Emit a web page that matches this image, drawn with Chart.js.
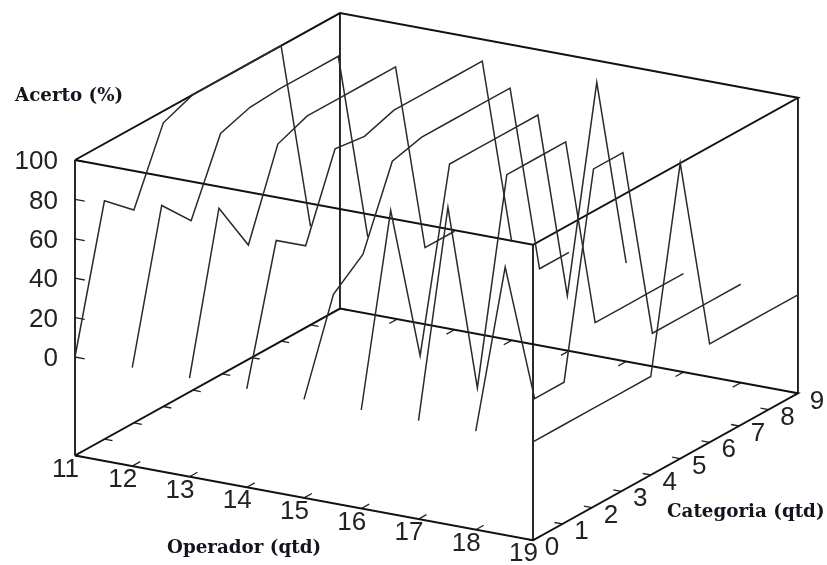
<!DOCTYPE html>
<html lang="pt-BR">
  <head>
    <meta charset="UTF-8" />
    <title>Acerto por operador e categoria</title>
    <script src="https://cdn.jsdelivr.net/npm/chart.js"></script>
    <style>
      html,
      body {
        margin: 0;
        padding: 0;
        background: #fff;
      }
      canvas {
        display: block;
      }
    </style>
  </head>
  <body>
    <canvas id="grafico" width="827" height="565"></canvas>

    <script>
      // Eixos
      const operadores = [11, 12, 13, 14, 15, 16, 17, 18, 19];
      const categorias = [0, 1, 2, 3, 4, 5, 6, 7, 8, 9];
      const ticksAcerto = [0, 20, 40, 60, 80, 100];

      // Acerto (%), um valor por categoria
      const acerto11 = [0, 71, 58, 94, 100, 100, 100, 100, 0];
      const acerto12 = [0, 74, 58, 94, 99, 100, 100, 100, 0];
      const acerto13 = [0, 78, 51, 94, 100, 100, 100, 100, 0, 0];
      const acerto14 = [0, 67, 56, 97, 95, 100, 100, 100, 100, 0];
      const acerto15 = [0, 45, 57, 96, 100, 100, 100, 100, 0, 0];
      const acerto16 = [0, 93, 11, 100, 100, 100, 100, 0, 100, 0];
      const acerto17 = [0, 100, 0, 100, 100, 100, 0, 0, 0, 0];
      const acerto18 = [0, 75, 0, 0, 100, 100, 0, 0, 0, 0];
      const acerto19 = [0, 0, 0, 0, 0, 100, 0, 0, 0, 0];
      const series = [
        acerto11, acerto12, acerto13, acerto14, acerto15,
        acerto16, acerto17, acerto18, acerto19,
      ];

      // Limites da caixa
      const acertoMin = -50;
      const acertoMax = 100;

      // Projecao da caixa 3D para o plano do grafico
      const projetar = (op, cat, z) => ({
        x: 75 + (op - 11) * 57.25 + cat * 29.44,
        y: 357 + (op - 11) * 10.6 - cat * 16.33 - z * 1.97,
      });

      const opA = operadores[0];
      const opB = operadores[operadores.length - 1];
      const catA = categorias[0];
      const catB = categorias[categorias.length - 1];

      const linha = (pontos, largura, cor) => ({
        data: pontos,
        showLine: true,
        borderColor: cor,
        borderWidth: largura,
        pointRadius: 0,
        tension: 0,
        clip: false,
      });

      const datasets = [];

      // Curvas de acerto
      series.forEach((valores, i) => {
        const pontos = valores.map((v, c) => projetar(operadores[i], c, v));
        datasets.push(linha(pontos, 1.5, "#2a2a2a"));
      });

      // Caixa: piso, topo e arestas verticais
      [acertoMin, acertoMax].forEach((z) => {
        datasets.push(
          linha(
            [
              projetar(opA, catA, z),
              projetar(opB, catA, z),
              projetar(opB, catB, z),
              projetar(opA, catB, z),
              projetar(opA, catA, z),
            ],
            2,
            "#111"
          )
        );
      });
      [
        [opA, catA],
        [opB, catA],
        [opB, catB],
        [opA, catB],
      ].forEach(([op, cat]) => {
        datasets.push(
          linha([projetar(op, cat, acertoMin), projetar(op, cat, acertoMax)], 1.8, "#111")
        );
      });

      // Marcas dos eixos
      operadores.forEach((op) => {
        datasets.push(linha([projetar(op, catA, acertoMin), projetar(op, catA + 0.27, acertoMin)], 1.3, "#222"));
        datasets.push(linha([projetar(op, catB, acertoMin), projetar(op, catB - 0.27, acertoMin)], 1.3, "#222"));
      });
      categorias.forEach((cat) => {
        datasets.push(linha([projetar(opA, cat, acertoMin), projetar(opA + 0.14, cat, acertoMin)], 1.3, "#222"));
        datasets.push(linha([projetar(opB, cat, acertoMin), projetar(opB - 0.14, cat, acertoMin)], 1.3, "#222"));
      });
      ticksAcerto.forEach((z) => {
        datasets.push(linha([projetar(opA, catA, z), projetar(opA + 0.17, catA, z)], 1.3, "#222"));
      });

      // Textos dos eixos
      const textos = {
        id: "textos",
        afterDatasetsDraw(chart) {
          const { ctx, scales } = chart;
          const escrever = (texto, p, dx, dy, alinhamento) => {
            ctx.textAlign = alinhamento;
            ctx.fillText(texto, scales.x.getPixelForValue(p.x) + dx, scales.y.getPixelForValue(p.y) + dy);
          };
          ctx.save();
          ctx.fillStyle = "#222";
          ctx.textBaseline = "middle";
          ctx.font = '26px "Liberation Sans", Arial, sans-serif';
          ticksAcerto.forEach((z) => escrever(String(z), projetar(opA, catA, z), -17, 2, "right"));
          operadores.forEach((op) => escrever(String(op), projetar(op, catA, acertoMin), -9.5, 14, "center"));
          categorias.forEach((cat) => escrever(String(cat), projetar(opB, cat, acertoMin), 19, 8, "center"));

          ctx.fillStyle = "#14141f";
          ctx.font = 'bold 18.3px "DejaVu Serif", serif';
          ctx.textAlign = "left";
          ctx.fillText("Acerto (%)", 15, 96);
          ctx.fillText("Operador (qtd)", 167, 548);
          ctx.fillText("Categoria (qtd)", 667, 512);
          ctx.restore();
        },
      };

      new Chart(document.getElementById("grafico"), {
        type: "scatter",
        data: { datasets: datasets },
        options: {
          responsive: false,
          animation: false,
          layout: { padding: 0 },
          plugins: {
            legend: { display: false },
            tooltip: { enabled: false },
          },
          scales: {
            x: { type: "linear", display: false, min: 0, max: 827 },
            y: { type: "linear", display: false, min: 0, max: 565, reverse: true },
          },
        },
        plugins: [textos],
      });
    </script>
  </body>
</html>
